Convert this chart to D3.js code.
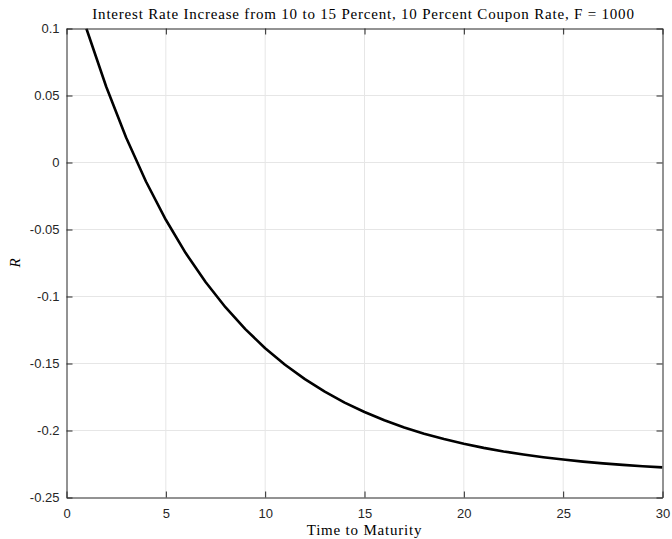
<!DOCTYPE html>
<html><head><meta charset="utf-8">
<script src="https://cdn.jsdelivr.net/npm/d3@7/dist/d3.min.js"></script>
<style>body{margin:0;background:#fff}svg{display:block}</style>
</head><body>
<svg id="c" width="672" height="539"></svg>
<script>
const maturity = [1,2,3,4,5,6,7,8,9,10,11,12,13,14,15,16,17,18,19,20,21,22,23,24,25,26,27,28,29,30];
const returnR = [0.1,0.056522,0.018715,-0.014161,-0.042749,-0.067607,-0.089224,-0.108021,-0.124366,-0.138579,
  -0.150938,-0.161685,-0.171031,-0.179157,-0.186223,-0.192368,-0.197711,-0.202358,-0.206398,-0.209911,
  -0.212966,-0.215623,-0.217933,-0.219942,-0.221688,-0.223207,-0.224528,-0.225676,-0.226675,-0.227543];
const xTicks = [0,5,10,15,20,25,30];
const yTicks = [-0.25,-0.2,-0.15,-0.1,-0.05,0,0.05,0.1];
const yTickLabels = ["-0.25","-0.2","-0.15","-0.1","-0.05","0","0.05","0.1"];
const titleText = "Interest Rate Increase from 10 to 15 Percent, 10 Percent Coupon Rate, F = 1000";
const xLabel = "Time to Maturity";
const yLabel = "R";

const L = 66.5, R = 662.5, T = 28.5, B = 497.5;
const svg = d3.select("#c");
const x = d3.scaleLinear().domain([0,30]).range([L,R]);
const y = d3.scaleLinear().domain([-0.25,0.1]).range([B,T]);

// grid
const g = svg.append("g");
g.selectAll(".gx").data(xTicks.slice(1,-1)).enter().append("line")
  .attr("x1",d=>x(d)).attr("x2",d=>x(d)).attr("y1",T).attr("y2",B)
  .attr("stroke","#e6e6e6").attr("stroke-width",1);
g.selectAll(".gy").data(yTicks.slice(1,-1)).enter().append("line")
  .attr("y1",d=>y(d)).attr("y2",d=>y(d)).attr("x1",L).attr("x2",R)
  .attr("stroke","#e6e6e6").attr("stroke-width",1);

// line
svg.append("clipPath").attr("id","cp").append("rect")
  .attr("x",L).attr("y",T).attr("width",R-L).attr("height",B-T);
svg.append("path").datum(maturity.map((m,i)=>[m,returnR[i]]))
  .attr("clip-path","url(#cp)")
  .attr("d",d3.line().x(d=>x(d[0])).y(d=>y(d[1])))
  .attr("fill","none").attr("stroke","#000").attr("stroke-width",2.6).attr("stroke-linejoin","round");

// axes
const tickFmt = (d)=>yTickLabels[yTicks.indexOf(d)];
const ax = svg.append("g").attr("transform",`translate(0,${B})`)
  .call(d3.axisBottom(x).tickValues(xTicks).tickSizeInner(-6).tickSizeOuter(0).tickPadding(12).tickFormat(d3.format("d")));
const axTop = svg.append("g").attr("transform",`translate(0,${T})`)
  .call(d3.axisTop(x).tickValues(xTicks).tickSizeInner(-6).tickSizeOuter(0).tickFormat(""));
const ay = svg.append("g").attr("transform",`translate(${L},0)`)
  .call(d3.axisLeft(y).tickValues(yTicks).tickSizeInner(-6).tickSizeOuter(0).tickPadding(7).tickFormat(tickFmt));
const ayR = svg.append("g").attr("transform",`translate(${R},0)`)
  .call(d3.axisRight(y).tickValues(yTicks).tickSizeInner(-6).tickSizeOuter(0).tickFormat(""));
[ax,axTop,ay,ayR].forEach(a=>{
  a.selectAll("path.domain").attr("stroke","#262626").attr("stroke-width",1);
  a.selectAll(".tick line").attr("stroke","#262626").attr("stroke-width",1);
  a.selectAll("text").attr("fill","#262626").style("font-family","'Liberation Sans', Arial, sans-serif").style("font-size","13px");
});
ax.selectAll("text").attr("dy","0.71em").attr("y",11);

// title & labels
const serif = "'Liberation Serif','Times New Roman',serif";
svg.append("text").attr("x",(L+R)/2 - 1).attr("y",19).attr("text-anchor","middle")
  .style("font-family",serif).style("font-size","15px").style("letter-spacing","0.8px").attr("fill","#000")
  .text(titleText);
svg.append("text").attr("x",(L+R)/2).attr("y",535).attr("text-anchor","middle")
  .style("font-family",serif).style("font-size","15px").style("letter-spacing","0.8px").attr("fill","#000")
  .text(xLabel);
svg.append("text").attr("transform",`translate(20,${(T+B)/2}) rotate(-90)`).attr("text-anchor","middle")
  .style("font-family",serif).style("font-size","15px").style("font-style","italic").attr("fill","#000")
  .text(yLabel);
</script>
</body></html>
